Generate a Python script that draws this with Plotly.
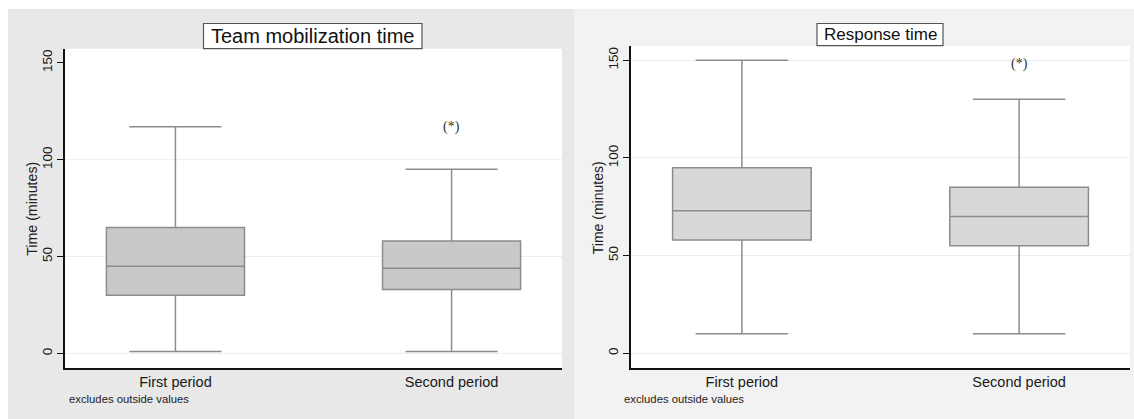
import plotly.graph_objects as go

categories = ["First period", "Second period"]

# Team mobilization time (minutes)
mob_low = [1, 1]
mob_q1 = [30, 33]
mob_med = [45, 44]
mob_q3 = [65, 58]
mob_high = [117, 95]

# Response time (minutes)
resp_low = [10, 10]
resp_q1 = [58, 55]
resp_med = [73, 70]
resp_q3 = [95, 85]
resp_high = [150, 130]

# significance marker heights
sig_y = [117, 148]
sig_cat = "Second period"

titles = ["Team mobilization time", "Response time"]
y_title = "Time (minutes)"
y_ticks = [0, 50, 100, 150]
left_grid = [0, 50, 100]
note = "excludes outside values"

W, H = 1134, 419
def px(x): return x / W
def py(y): return 1 - y / H

fig = go.Figure()

line_col = "#8c8c8c"
fig.add_trace(go.Box(
    x=categories, q1=mob_q1, median=mob_med, q3=mob_q3,
    lowerfence=mob_low, upperfence=mob_high,
    fillcolor="#c8c9c9", line=dict(color=line_col, width=1.5),
    width=0.5, whiskerwidth=0.667, boxpoints=False, hoverinfo="skip",
    xaxis="x", yaxis="y", showlegend=False))
fig.add_trace(go.Box(
    x=categories, q1=resp_q1, median=resp_med, q3=resp_q3,
    lowerfence=resp_low, upperfence=resp_high,
    fillcolor="#d7d8d8", line=dict(color=line_col, width=1.5),
    width=0.5, whiskerwidth=0.667, boxpoints=False, hoverinfo="skip",
    xaxis="x2", yaxis="y2", showlegend=False))

L = dict(x0=65, x1=562, y0=368.3, y1=48.7)
R = dict(x0=631, x1=1130, y0=368.3, y1=46)
gridcol = "#e6eff0"

shapes = [
    dict(type="rect", xref="paper", yref="paper", x0=px(8), x1=px(574), y0=0, y1=py(9),
         fillcolor="#e8e8e8", line=dict(width=0), layer="below"),
    dict(type="rect", xref="paper", yref="paper", x0=px(574), x1=1, y0=0, y1=py(9),
         fillcolor="#f2f2f2", line=dict(width=0), layer="below"),
    dict(type="rect", xref="paper", yref="paper", x0=px(L["x0"]), x1=px(L["x1"]),
         y0=py(L["y0"]), y1=py(L["y1"]), fillcolor="white", line=dict(width=0), layer="below"),
    dict(type="rect", xref="paper", yref="paper", x0=px(R["x0"]), x1=px(R["x1"]),
         y0=py(R["y0"]), y1=py(R["y1"]), fillcolor="white", line=dict(width=0), layer="below"),
]
for g in left_grid:
    shapes.append(dict(type="line", xref="x domain", yref="y", x0=0, x1=1, y0=g, y1=g,
                       line=dict(color=gridcol, width=1), layer="below"))
shapes += [
    # title boxes
    dict(type="rect", xref="paper", yref="paper", x0=px(203.5), x1=px(422), y0=py(48.7), y1=py(23.5),
         fillcolor="white", line=dict(color="#555555", width=1.2), layer="above"),
    dict(type="rect", xref="paper", yref="paper", x0=px(817), x1=px(943), y0=py(45.7), y1=py(23.5),
         fillcolor="white", line=dict(color="#555555", width=1.2), layer="above"),
]

sans = "Liberation Sans, Arial"
annotations = [
    dict(text=titles[0], xref="paper", yref="paper", x=px(312.8), y=py(36), showarrow=False,
         font=dict(family=sans, size=20, color="#111111"), xanchor="center", yanchor="middle"),
    dict(text=titles[1], xref="paper", yref="paper", x=px(880), y=py(34.6), showarrow=False,
         font=dict(family=sans, size=17, color="#111111"), xanchor="center", yanchor="middle"),
    dict(text=y_title, xref="paper", yref="paper", x=px(31.8), y=py(209), showarrow=False,
         textangle=-90, font=dict(family=sans, size=14.2, color="#222222"),
         xanchor="center", yanchor="middle"),
    dict(text=y_title, xref="paper", yref="paper", x=px(597.7), y=py(207.5), showarrow=False,
         textangle=-90, font=dict(family=sans, size=14, color="#222222"),
         xanchor="center", yanchor="middle"),
    dict(text=note, xref="paper", yref="paper", x=px(67), y=py(399), showarrow=False,
         font=dict(family=sans, size=11.3, color="#222222"), xanchor="left", yanchor="middle"),
    dict(text=note, xref="paper", yref="paper", x=px(622), y=py(399), showarrow=False,
         font=dict(family=sans, size=11.3, color="#222222"), xanchor="left", yanchor="middle"),
    dict(text="(*)", xref="x", yref="y", x=sig_cat, y=sig_y[0], showarrow=False,
         font=dict(family="Liberation Serif, Times New Roman", size=14, color="#333333"),
         xanchor="center", yanchor="middle"),
    dict(text="(*)", xref="x2", yref="y2", x=sig_cat, y=sig_y[1], showarrow=False,
         font=dict(family="Liberation Serif, Times New Roman", size=14, color="#333333"),
         xanchor="center", yanchor="middle"),
]

tickfont = dict(family=sans, size=13.5, color="#1a1a1a")
xfont = dict(family=sans, size=14.5, color="#1a1a1a")

def xaxis(domain, anchor):
    return dict(domain=domain, anchor=anchor, type="category", range=[-0.4, 1.4],
                showline=True, linecolor="#111111", linewidth=1.5, ticks="",
                showgrid=False, zeroline=False, tickfont=xfont, fixedrange=True,
                automargin=False)

def yaxis(domain, anchor, grid):
    return dict(domain=domain, anchor=anchor, range=[-7.7, 157.3],
                tickvals=y_ticks, ticks="outside", ticklen=6, tickwidth=1.2,
                tickcolor="#111111", showline=True, linecolor="#111111", linewidth=1.5,
                showgrid=grid, gridcolor=gridcol, gridwidth=1, zeroline=False,
                tickangle=-90, tickfont=tickfont, automargin=False,
                fixedrange=True)

fig.update_layout(
    width=W, height=H, margin=dict(l=0, r=0, t=0, b=0),
    paper_bgcolor="white", plot_bgcolor="white",
    xaxis=xaxis([px(L["x0"]), px(L["x1"])], "y"),
    yaxis=yaxis([py(L["y0"]), py(L["y1"])], "x", False),
    xaxis2=xaxis([px(R["x0"]), px(R["x1"])], "y2"),
    yaxis2=yaxis([py(R["y0"]), py(R["y1"])], "x2", True),
    shapes=shapes, annotations=annotations, showlegend=False,
)

fig.write_html("out.html", config={"displayModeBar": False},
               post_script="document.body.style.margin='0';document.body.style.padding='0';document.body.style.overflow='hidden';")
